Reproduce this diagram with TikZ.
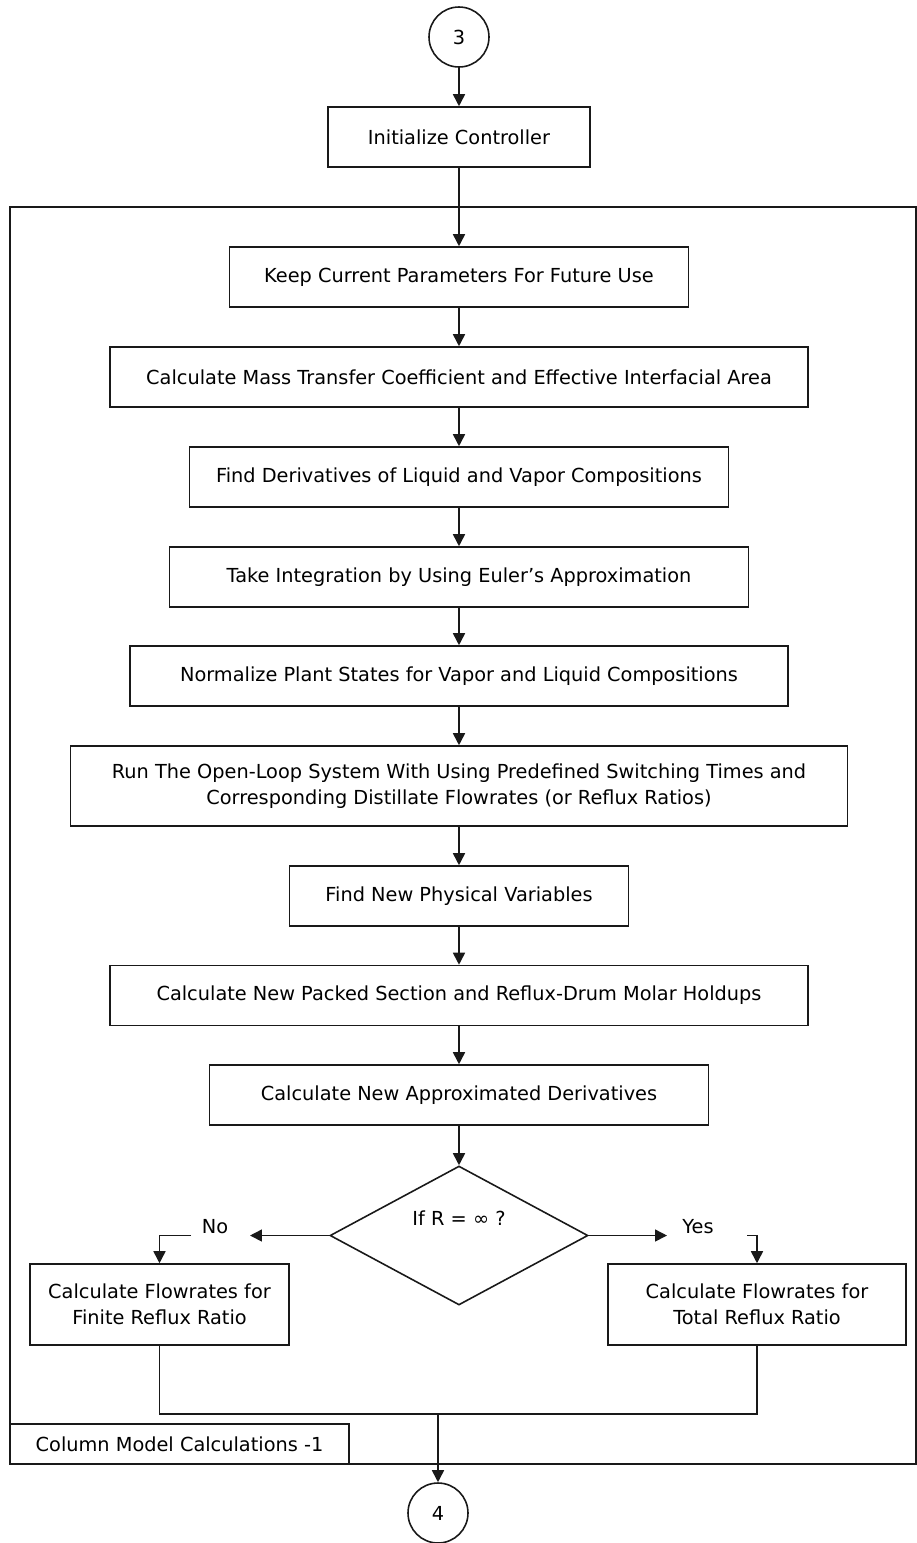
\documentclass[tikz,border=0pt]{standalone}
\usepackage{fontspec}
\setmainfont{DejaVu Sans}
\usetikzlibrary{shapes.geometric,arrows.meta,positioning}

\begin{document}
\begin{tikzpicture}[
    x=0.02cm, y=-0.02cm,
    line width=0.9pt,
    box/.style={rectangle, draw=black!90, minimum height=1.2cm, align=center, font=\fontsize{11}{15}\selectfont, inner sep=2pt},
    conn/.style={circle, draw=black!90, minimum size=1.2cm, inner sep=0pt, font=\fontsize{11}{15}\selectfont},
    decision/.style={diamond, draw=black!90, minimum width=5.16cm, minimum height=2.78cm, inner sep=0pt},
    tag/.style={font=\fontsize{11}{15}\selectfont},
    arrow/.style={-{Triangle[length=0.24cm,width=0.24cm]}, draw=black!90},
    line/.style={draw=black!90}
]
\useasboundingbox (0,0) rectangle (917,1543);

% Connector in
\node[conn] (c3) at (459,37) {3};
\node[box, minimum width=5.24cm] (init) at (459,137) {Initialize Controller};

% Column model frame
\draw[line] (10,207) rectangle (916,1464);
\node[box, minimum width=6.78cm, minimum height=0.8cm] (frametag) at (179.5,1444) {Column Model Calculations -1};

% Steps
\node[box, minimum width=9.18cm] (keep) at (459,277) {Keep Current Parameters For Future Use};
\node[box, minimum width=13.96cm] (mass) at (459,377) {Calculate Mass Transfer Coefficient and Effective Interfacial Area};
\node[box, minimum width=10.78cm] (deriv) at (459,477) {Find Derivatives of Liquid and Vapor Compositions};
\node[box, minimum width=11.58cm] (euler) at (459,577) {Take Integration by Using Euler’s Approximation};
\node[box, minimum width=13.16cm] (norm) at (459,676) {Normalize Plant States for Vapor and Liquid Compositions};
\node[box, minimum width=15.54cm, minimum height=1.6cm] (run) at (459,786) {Run The Open-Loop System With Using Predefined Switching Times and\\Corresponding Distillate Flowrates (or Reflux Ratios)};
\node[box, minimum width=6.78cm] (phys) at (459,896) {Find New Physical Variables};
\node[box, minimum width=13.96cm] (packed) at (459,995.5) {Calculate New Packed Section and Reflux-Drum Molar Holdups};
\node[box, minimum width=9.98cm] (approx) at (459,1095) {Calculate New Approximated Derivatives};

% Decision
\node[decision, label={[tag, yshift=0.34cm]center:If R = ∞ ?}] (cond) at (459,1235.5) {};
\node[tag] (notag) at (215,1227) {No};
\node[tag] (yestag) at (698,1227) {Yes};
\coordinate (noend) at (250,1235.5);
\coordinate (yesend) at (667,1235.5);
\coordinate (nobend) at (191,1235.5);
\coordinate (yesbend) at (747,1235.5);

\node[box, minimum width=5.18cm, minimum height=1.62cm] (finite) at (159.5,1304.5) {Calculate Flowrates for\\Finite Reflux Ratio};
\node[box, minimum width=5.96cm, minimum height=1.62cm] (total) at (757,1304.5) {Calculate Flowrates for\\Total Reflux Ratio};

% Connector out
\coordinate (join) at (438,1414);
\node[conn] (c4) at (438,1513) {4};

% Arrows
\draw[arrow] (c3) -- (init);
\draw[arrow] (init) -- (keep);
\draw[arrow] (keep) -- (mass);
\draw[arrow] (mass) -- (deriv);
\draw[arrow] (deriv) -- (euler);
\draw[arrow] (euler) -- (norm);
\draw[arrow] (norm) -- (run);
\draw[arrow] (run) -- (phys);
\draw[arrow] (phys) -- (packed);
\draw[arrow] (packed) -- (approx);
\draw[arrow] (approx) -- (cond);
\draw[arrow] (cond.west) -- (noend);
\draw[arrow] (cond.east) -- (yesend);
\draw[arrow] (nobend) -| (finite.north);
\draw[arrow] (yesbend) -| (total.north);
\draw[line] (finite.south) |- (join) -| (total.south);
\draw[arrow] (join) -- (c4);

\end{tikzpicture}
\end{document}
